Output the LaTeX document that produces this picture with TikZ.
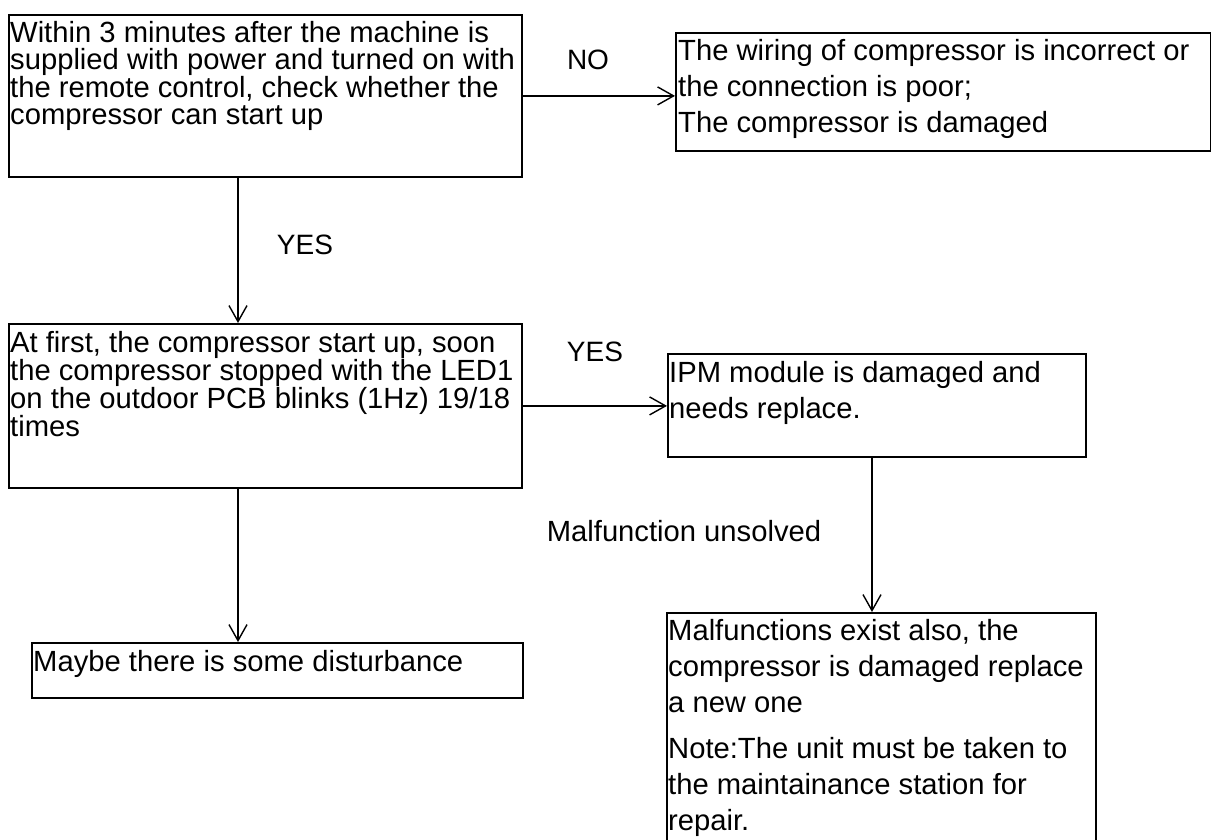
\documentclass[tikz,border=0pt]{standalone}
\usepackage{fontspec}
\setmainfont{Liberation Sans}
\usetikzlibrary{arrows.meta}
\tikzset{
  box/.style={draw, line width=1.8pt, rectangle, inner sep=0pt, anchor=north west},
  txt/.style={inner sep=0pt, anchor=north west, align=left},
  tight/.style={font=\fontsize{29.2}{27}\selectfont},
  loose/.style={font=\fontsize{29.2}{36}\selectfont},
  lbl/.style={inner sep=0pt, font=\fontsize{28}{30}\selectfont},
  arr/.style={line width=1.4pt, -{Straight Barb[length=16pt,width=18pt,line width=1.4pt]}}
}
\newcommand{\topstrut}{\rule{0pt}{22pt}}
\begin{document}
\begin{tikzpicture}[x=1pt,y=-1pt]
\useasboundingbox[fill=white] (0,0) rectangle (1211,839);
% boxes
\node[box, minimum width=513pt, minimum height=162pt] (A) at (8,14) {};
\node[box, minimum width=535pt, minimum height=118pt] (B) at (675,32) {};
\node[box, minimum width=513pt, minimum height=164pt] (C) at (8,323) {};
\node[box, minimum width=418pt, minimum height=103pt] (D) at (667,353) {};
\node[box, minimum width=429pt, minimum height=260pt] (E) at (666,612) {};
\node[box, minimum width=491pt, minimum height=55pt] (F) at (31,642) {};
% texts
\node[txt, tight] (tA) at (10,20) {\topstrut Within 3 minutes after the machine is\\ supplied with power and turned on with\\ the remote control, check whether the\\ compressor can start up};
\node[txt, loose] (tB) at (678,38) {\topstrut The wiring of compressor is incorrect or\\ the connection is poor;\\ The compressor is damaged};
\node[txt, tight] (tC) at (10,330) {\topstrut At first, the compressor start up, soon\\ the compressor stopped with the LED1\\ on the outdoor PCB blinks (1Hz) 19/18\\ times};
\node[txt, loose] (tD) at (669,360) {\topstrut IPM module is damaged and\\ needs replace.};
\node[txt, loose] (tE) at (668,618) {\topstrut Malfunctions exist also, the\\ compressor is damaged replace\\ a new one\\[10pt] Note:The unit must be taken to\\ the maintainance station for\\ repair.};
\node[txt, tight] (tF) at (33,649) {\topstrut Maybe there is some disturbance};
% labels
\node[lbl] (lNO) at (588,60) {NO};
\node[lbl] (lYES1) at (305,245) {YES};
\node[lbl] (lYES2) at (595,352) {YES};
\node[lbl, font=\fontsize{29.2}{30}\selectfont] (lMU) at (684,531) {Malfunction unsolved};
% connector guides
\coordinate (x1) at (238,0);
\coordinate (x2) at (872,0);
% connectors
\draw[arr] (A.east) -- (A.east -| B.west);
\draw[arr] (A.south -| x1) -- (C.north -| x1);
\draw[arr] (C.east) -- (C.east -| D.west);
\draw[arr] (C.south -| x1) -- (F.north -| x1);
\draw[arr] (D.south -| x2) -- (E.north -| x2);
\end{tikzpicture}
\end{document}
